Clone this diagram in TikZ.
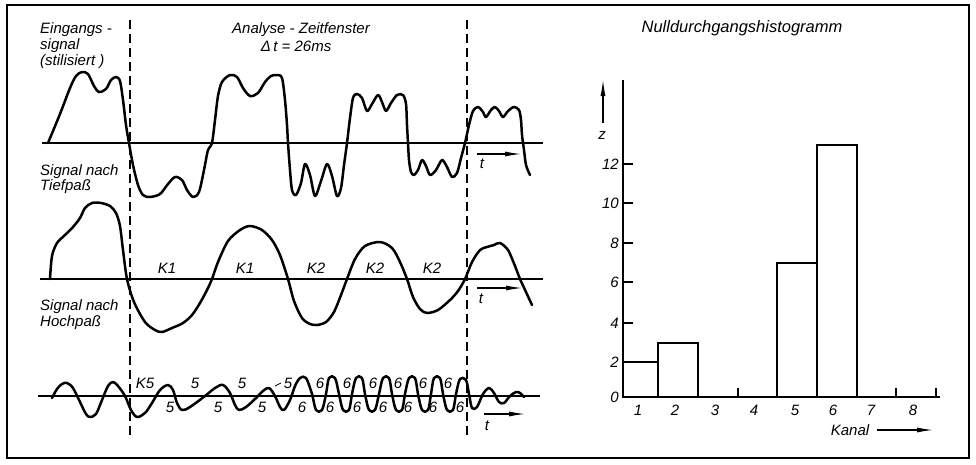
\documentclass[tikz,border=0pt]{standalone}
\usepackage{fontspec}
\setmainfont{Liberation Sans}
\usetikzlibrary{arrows.meta}
\newcommand{\lblf}{\fontsize{15}{17}\selectfont\itshape}
\newcommand{\ttlf}{\fontsize{16.5}{18}\selectfont\itshape}
\begin{document}
\begin{tikzpicture}[x=1pt,y=-1pt,
  wave/.style={line width=2.5pt, line join=round, line cap=round},
  axisline/.style={line width=1.3pt},
  window/.style={line width=1.1pt, dash pattern=on 9pt off 5pt},
  lbl/.style={font=\lblf, inner sep=0pt},
  ttl/.style={font=\ttlf, inner sep=0pt},
  tarrow/.style={line width=1.1pt, -{Latex[length=16pt,width=5pt]}},
  bar/.style={line width=1.6pt}]
\useasboundingbox (0,0) rectangle (976,464);
\fill[white] (0,0) rectangle (976,464);
\draw[line width=2pt] (7,5) rectangle (969,458);

% ---------- analysis window ----------
\coordinate (w1a) at (130,20); \coordinate (w1b) at (130,438);
\coordinate (w2a) at (467,20); \coordinate (w2b) at (467,438);
\draw[window] (w1a) -- (w1b);
\draw[window] (w2a) -- (w2b);

% ---------- texts left ----------
\node[lbl, anchor=west] (ein1) at (40,30) {Eingangs -};
\node[lbl, anchor=west] (ein2) at (40,46) {signal};
\node[lbl, anchor=west] (ein3) at (40,62) {(stilisiert )};
\node[lbl] (ana1) at (301,30) {Analyse - Zeitfenster};
\node[lbl] (ana2) at (296,46) {Δ\,t = 26ms};
\node[lbl, anchor=west] (tp1) at (40,172) {Signal nach};
\node[lbl, anchor=west] (tp2) at (40,187) {Tiefpaß};
\node[lbl, anchor=west] (hp1) at (40,307) {Signal nach};
\node[lbl, anchor=west] (hp2) at (40,323) {Hochpaß};

% ---------- axes ----------
\coordinate (a1s) at (42,143); \coordinate (a1e) at (543,143);
\coordinate (a2s) at (40,279); \coordinate (a2e) at (543,279);
\coordinate (a3s) at (38,396); \coordinate (a3e) at (540,396);
\draw[axisline] (a1s) -- (a1e);
\draw[axisline] (a2s) -- (a2e);
\draw[axisline] (a3s) -- (a3e);
\coordinate (t1s) at (477,154); \coordinate (t1e) at (521,154);
\coordinate (t2s) at (477,288); \coordinate (t2e) at (522,288);
\coordinate (t3s) at (484,414); \coordinate (t3e) at (525,414);
\draw[tarrow] (t1s) -- (t1e);
\draw[tarrow] (t2s) -- (t2e);
\draw[tarrow] (t3s) -- (t3e);
\node[lbl] (tl1) at (482,164) {t};
\node[lbl] (tl2) at (481,299) {t};
\node[lbl] (tl3) at (487,426) {t};

% ---------- input signal ----------
\draw[wave] plot[smooth, tension=0.5] coordinates {
 (48,143) (60,114) (70,88) (76,76) (82,72) (88,74) (94,86) (99,92) (106,89) (111,80) (116,77) (120,81)
 (123,100) (126,125) (129,143) (133,165) (138,185) (143,195) (150,197) (160,194) (168,184) (175,177)
 (182,180) (187,190) (193,197) (199,192) (204,170) (208,150) (212,143) (215,120) (218,96) (222,82) (230,75)
 (237,77) (243,88) (250,96) (258,93) (265,82) (271,76) (277,75) (282,78) (285,100) (287,125) (288,143)
 (290,170) (292,190) (296,195) (301,183) (305,164) (310,175) (315,196) (321,181) (327,164) (332,176)
 (337,196) (341,188) (344,165) (347,143) (350,118) (353,98) (357,94) (362,98) (367,111) (372,104) (378,95)
 (382,102) (386,111) (391,103) (397,95) (403,95) (406,104) (407,125) (408,143) (409,160) (411,172) (414,175)
 (418,170) (422,160) (426,166) (430,175) (436,170) (442,160) (447,167) (452,177) (457,173) (461,158)
 (465,143) (469,125) (473,111) (478,107) (483,112) (486,117) (491,110) (495,107) (499,111) (503,117)
 (508,111) (514,107) (519,110) (521,120) (522,135) (524,150) (526,165) (530,175)};

% ---------- low pass signal ----------
\draw[wave] plot[smooth, tension=0.5] coordinates {
 (50,279) (52,256) (57,243) (65,235) (73,227) (80,218) (85,208) (92,203) (101,203) (110,206) (116,213)
 (120,226) (123,250) (127,279) (134,302) (145,322) (155,330) (162,332) (172,328) (183,323) (192,315)
 (200,303) (207,290) (212,279) (218,262) (228,241) (240,230) (250,226) (262,230) (272,240) (280,255)
 (288,279) (294,301) (302,318) (310,324) (317,325) (326,322) (334,312) (341,295) (347,279) (355,259)
 (365,246) (380,242) (392,248) (400,262) (407,279) (413,297) (420,309) (427,313) (438,310) (450,300)
 (458,291) (465,279) (472,262) (480,250) (487,247) (494,245) (500,243) (508,250) (515,266) (520,279)
 (526,292) (532,305)};

% ---------- high pass signal ----------
\draw[wave] plot[smooth, tension=0.55] coordinates {
 (52,398) (57,389) (62,384) (67,383) (73,388) (80,402) (86,414) (90,417) (96,414) (102,400) (108,386)
 (113,382) (118,386) (125,396) (131,410) (137,417) (145,413) (152,403) (160,390) (168,385) (173,390)
 (177,403) (182,410) (190,407) (205,396) (215,388) (223,385) (230,393) (235,405) (239,410) (246,407)
 (255,399) (263,391) (269,388) (275,396) (280,407) (284,410) (290,400) (295,386) (300,378) (306,378)
 (312,394) (316,410) (322,410)
 (326,394) (329,378) (335,378) (339,394) (343,410) (349,410)
 (352,394) (356,378) (362,378) (365,394) (369,410) (375,410)
 (379,394) (383,378) (389,378) (392,394) (396,410) (402,410)
 (405,394) (409,378) (415,378) (418,394) (422,410) (428,410)
 (431,394) (434,378) (440,378) (443,394) (447,410) (453,410)
 (456,394) (460,379) (466,380) (469,394) (472,408) (477,407)
 (483,394) (489,388) (494,393) (499,402) (504,403) (510,396) (516,392) (520,393) (524,397)};

% ---------- channel labels ----------
\node[lbl] (k1a) at (167,268) {K1};
\node[lbl] (k1b) at (245,268) {K1};
\node[lbl] (k2a) at (316,268) {K2};
\node[lbl] (k2b) at (375,268) {K2};
\node[lbl] (k2c) at (432,268) {K2};

\node[lbl] (k5) at (145,383) {K5};
\node[lbl] (u5a) at (195,383) {5};
\node[lbl] (u5b) at (242,383) {5};
\node[lbl] (u5c) at (288,383) {5};
\coordinate (ld1) at (275,386); \coordinate (ld2) at (281,383);
\draw[line width=0.8pt] (ld1) -- (ld2);
\foreach \x [count=\i] in {320,347,373,398,423,448} {
  \node[lbl] (u6\i) at (\x,383) {6};
}
\foreach \x [count=\i] in {170,218,262} {
  \node[lbl] (d5\i) at (\x,407) {5};
}
\foreach \x [count=\i] in {302,330,357,383,408,433,460} {
  \node[lbl] (d6\i) at (\x,407) {6};
}

% ---------- histogram ----------
\node[ttl] (title) at (742,28) {Nulldurchgangshistogramm};
\coordinate (yax0) at (623,397); \coordinate (yax1) at (623,80);
\coordinate (xax1) at (940,397);
\draw[axisline] (yax1) -- (yax0) -- (xax1);
\foreach \v/\y in {4/323, 6/282, 8/243, 10/203, 12/164} {
  \coordinate (tk\v) at (633,\y);
  \draw[axisline] (623,\y) -- (tk\v);
  \node[lbl, anchor=east] (yl\v) at (619,\y) {\v};
}
\node[lbl, anchor=east] (yl2) at (619,362) {2};
\node[lbl, anchor=east] (yl0) at (619,397) {0};
\foreach \x in {738,896,936} {
  \draw[axisline] (\x,397) -- (\x,388);
}
\draw[bar] (623,362) -- (658,362) -- (658,397);
\draw[bar] (658,397) -- (658,343) -- (698,343) -- (698,397);
\draw[bar] (777,397) -- (777,263) -- (817,263) -- (817,397);
\draw[bar] (817,263) -- (817,145) -- (857,145) -- (857,397);
\foreach \n/\x in {1/638,2/675,3/715,4/754,5/795,6/833,7/871,8/913} {
  \node[lbl] (xl\n) at (\x,410) {\n};
}
\coordinate (za) at (603,123); \coordinate (zb) at (603,80);
\draw[line width=1.1pt, -{Latex[length=16pt,width=5pt]}] (za) -- (zb);
\node[lbl] (zl) at (602,136) {z};
\node[lbl] (kanal) at (850,430) {Kanal};
\coordinate (ka) at (877,430); \coordinate (kb) at (933,430);
\draw[tarrow] (ka) -- (kb);
\end{tikzpicture}
\end{document}
